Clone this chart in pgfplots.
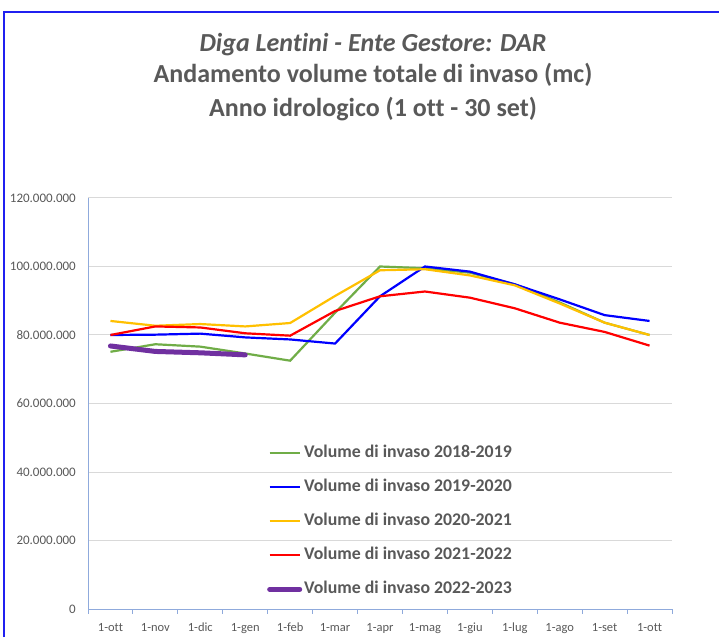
\documentclass[border=0pt]{standalone}
\usepackage{fontspec}
\setmainfont{Carlito}[Ligatures={NoCommon}]
\usepackage{pgfplots}
\usepackage{pgfplotstable}
\pgfplotsset{compat=1.18}
\definecolor{txt}{HTML}{595959}
\definecolor{gridc}{HTML}{D9D9D9}
\definecolor{axisc}{HTML}{8FAADC}
\definecolor{cgreen}{HTML}{70AD47}
\definecolor{cblue}{HTML}{0000FF}
\definecolor{cyellow}{HTML}{FFC000}
\definecolor{cred}{HTML}{FF0000}
\definecolor{cpurple}{HTML}{7030A0}
\definecolor{frame}{HTML}{2020F0}

\pgfplotstableread{
idx g b y r
0 75100000 80000000 84100000 80000000
1 77300000 80100000 82700000 82500000
2 76600000 80400000 83200000 82200000
3 74600000 79300000 82500000 80500000
4 72500000 78700000 83500000 79800000
5 86500000 77500000 91400000 87000000
6 100000000 91300000 98900000 91300000
7 99500000 100000000 99200000 92700000
8 98200000 98500000 97400000 90900000
9 94800000 94800000 94500000 87800000
10 89500000 90400000 89200000 83600000
11 83600000 85800000 83600000 80900000
12 80000000 84100000 80000000 76900000
}\datamain

\pgfplotstableread{
idx p
0 76800000
1 75200000
2 74800000
3 74200000
}\datapurple

\begin{document}
\begin{tikzpicture}[x=1pt,y=1pt]
\useasboundingbox (0,0) rectangle (719,637);
\fill[white] (0,0) rectangle (719,637);
\draw[frame, line width=1.5pt] (4,0) -- (4,625) -- (719,625);

\node[anchor=base, text=txt, font=\fontsize{26}{30}\selectfont\bfseries\itshape] at (373,585) {Diga Lentini - Ente Gestore: DAR};
\node[anchor=base, text=txt, font=\fontsize{26}{30}\selectfont\bfseries] at (373,554) {Andamento volume totale di invaso (mc)};
\node[anchor=base, text=txt, font=\fontsize{26}{30}\selectfont\bfseries] at (373,520) {Anno idrologico (1 ott - 30 set)};

\begin{axis}[
  at={(88pt,28pt)}, anchor=south west,
  scale only axis, width=584pt, height=411pt,
  xmin=-0.5, xmax=12.5, ymin=0, ymax=120000000,
  axis x line*=bottom, axis y line*=left,
  axis line style={draw=axisc, line width=0.9pt, -},
  xtick={0,...,12},
  xticklabels={1-ott,1-nov,1-dic,1-gen,1-feb,1-mar,1-apr,1-mag,1-giu,1-lug,1-ago,1-set,1-ott},
  minor xtick={-0.5,0.5,...,12.5},
  minor tick length=4.5pt, major tick length=0pt,
  tick align=outside,
  minor tick style={draw=axisc, line width=0.9pt},
  major tick style={draw=none},
  ytick={0,20000000,40000000,60000000,80000000,100000000,120000000},
  yticklabels={0,20.000.000,40.000.000,60.000.000,80.000.000,100.000.000,120.000.000},
  scaled y ticks=false,
  ymajorgrids, grid style={draw=gridc, line width=1pt},
  /pgf/number format/assume math mode=true,
  yticklabel style={font=\fontsize{13}{15}\selectfont, text=txt, inner sep=0pt, xshift=-12pt},
  xticklabel style={font=\fontsize{12.5}{15}\selectfont, text=txt, inner sep=0pt, text height=9pt, text depth=3pt, yshift=-13pt},
  legend cell align=left,
  legend image code/.code={\draw[#1] (0pt,0pt) -- (30pt,0pt);},
  legend style={at={(0.3065,0.400)}, anchor=north west, draw=none, fill=none,
    font=\fontsize{17.8}{20}\selectfont\bfseries, text=txt,
    row sep=17pt, column sep=2pt, inner sep=0pt,
    nodes={inner sep=0pt, text height=13pt, text depth=4pt}},
]
\addplot[cgreen, line width=2.2pt] table[x=idx, y=g] {\datamain};
\addlegendentry{Volume di invaso 2018-2019}
\addplot[cblue, line width=2.2pt] table[x=idx, y=b] {\datamain};
\addlegendentry{Volume di invaso 2019-2020}
\addplot[cyellow, line width=2.2pt] table[x=idx, y=y] {\datamain};
\addlegendentry{Volume di invaso 2020-2021}
\addplot[cred, line width=2.2pt] table[x=idx, y=r] {\datamain};
\addlegendentry{Volume di invaso 2021-2022}
\addplot[cpurple, line width=5pt, line cap=round] table[x=idx, y=p] {\datapurple};
\addlegendentry{Volume di invaso 2022-2023}
\end{axis}
\end{tikzpicture}
\end{document}
